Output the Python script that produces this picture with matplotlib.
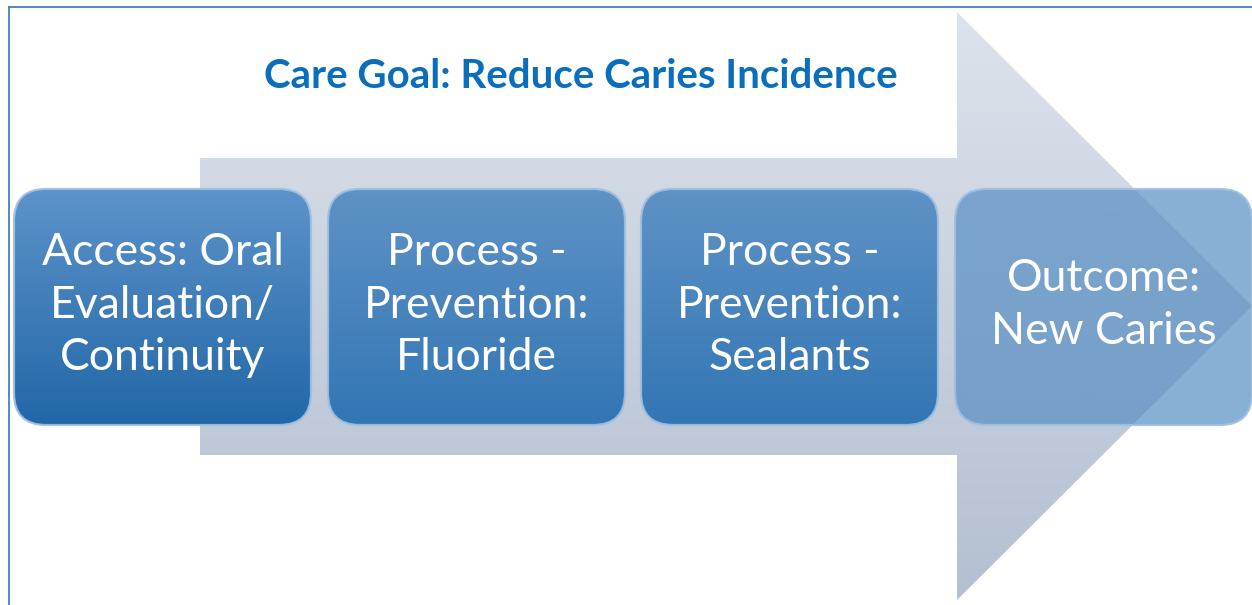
"""
Logic model diagram: care goal arrow with four step boxes.
"""

import numpy as np
import matplotlib
matplotlib.use("Agg")
import matplotlib.pyplot as plt
from matplotlib.patches import Polygon, FancyBboxPatch
from matplotlib.colors import LinearSegmentedColormap

# ---------------------------------------------------------------------------
# Content
# ---------------------------------------------------------------------------
TITLE = "Care Goal: Reduce Caries Incidence"
STEP_LABELS = [
    "Access: Oral\nEvaluation/\nContinuity",
    "Process -\nPrevention:\nFluoride",
    "Process -\nPrevention:\nSealants",
    "Outcome:\nNew Caries",
]
# (top colour, bottom colour, alpha) for each box
STEP_COLORS = [
    ("#5d93ca", "#2167a7", 1.0),
    ("#5f92c6", "#3276b4", 1.0),
    ("#5f92c6", "#3276b4", 1.0),
    ("#5a90c4", "#5a90c4", 0.72),
]

# ---------------------------------------------------------------------------
# Layout (pixel coordinates, y grows downward)
# ---------------------------------------------------------------------------
W, H = 1252, 605
BOX_X = [14, 328, 641, 955]
BOX_W = 297
BOX_TOP, BOX_BOT = 189, 425
RADIUS = 32
FONT = ["Lato", "DejaVu Sans"]

fig = plt.figure(figsize=(W / 100, H / 100), dpi=100, facecolor="white")
ax = fig.add_axes([0, 0, 1, 1])
ax.set_xlim(0, W)
ax.set_ylim(H, 0)
ax.axis("off")


def gradient_fill(patch, top_color, bottom_color, alpha=1.0, zorder=1):
    """Fill a patch with a vertical gradient via a clipped image."""
    ax.add_patch(patch)
    x0, y0, x1, y1 = patch.get_extents().transformed(ax.transData.inverted()).extents
    ymin, ymax = min(y0, y1), max(y0, y1)
    cmap = LinearSegmentedColormap.from_list("g", [top_color, bottom_color])
    grad = np.linspace(0, 1, 256).reshape(-1, 1)
    im = ax.imshow(grad, cmap=cmap, extent=(x0, x1, ymax, ymin), origin="upper",
                   aspect="auto", alpha=alpha, zorder=zorder, interpolation="bilinear")
    im.set_clip_path(patch)
    return im


# Frame lines
ax.plot([9, 9], [7, H], color="#4a7ebb", lw=1.3, zorder=5)
ax.plot([9, W], [7, 7], color="#4a7ebb", lw=1.3, zorder=5)

# Big background arrow
arrow_pts = [(200, 158), (957, 158), (957, 12), (1252, 306),
             (957, 600), (957, 455), (200, 455)]
arrow = Polygon(arrow_pts, closed=True, facecolor="none", edgecolor="none")
gradient_fill(arrow, "#dde3ec", "#b4bfd1", zorder=1)

# Title
ax.text(581, 77, TITLE, ha="center", va="center", fontsize=29,
        fontweight="bold", color="#0a6ebd", family=FONT, zorder=6)

# Step boxes
for x, label, (c_top, c_bot, a) in zip(BOX_X, STEP_LABELS, STEP_COLORS):
    box = FancyBboxPatch((x + RADIUS, BOX_TOP + RADIUS),
                         BOX_W - 2 * RADIUS, BOX_BOT - BOX_TOP - 2 * RADIUS,
                         boxstyle=f"round,pad={RADIUS}",
                         facecolor="none", edgecolor="none", zorder=2)
    gradient_fill(box, c_top, c_bot, alpha=a, zorder=2)
    edge = FancyBboxPatch((x + RADIUS, BOX_TOP + RADIUS),
                          BOX_W - 2 * RADIUS, BOX_BOT - BOX_TOP - 2 * RADIUS,
                          boxstyle=f"round,pad={RADIUS}",
                          facecolor="none", edgecolor="#9fc0e2", lw=1.6,
                          alpha=0.9, zorder=3)
    ax.add_patch(edge)
    ax.text(x + BOX_W / 2, (BOX_TOP + BOX_BOT) / 2 - 2, label,
            ha="center", va="center", fontsize=32, color="white",
            linespacing=1.36, family=FONT, zorder=4)

fig.savefig("out.png", dpi=100, facecolor="white")
